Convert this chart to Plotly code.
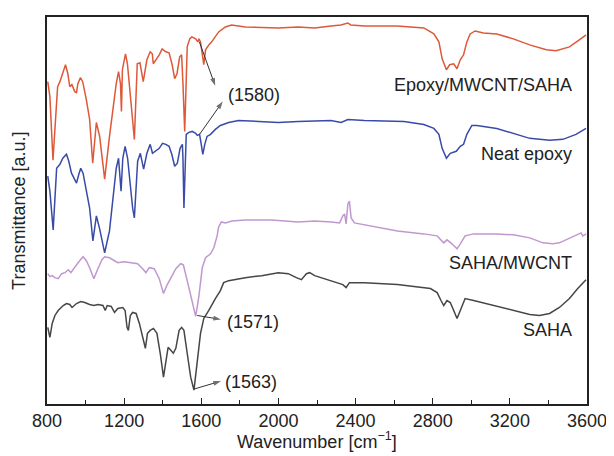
import plotly.graph_objects as go

# ---- data (wavenumber [cm-1], transmittance [a.u., offset]) ----
red_wn = [804, 815, 831, 850, 855, 867, 882, 896, 908, 918, 929, 944, 953, 960, 973, 985,
          1004, 1021, 1037, 1056, 1073, 1099, 1124, 1159, 1171, 1181, 1186, 1191, 1207, 1217,
          1236, 1248, 1253, 1268, 1282, 1299, 1318, 1335, 1346, 1351, 1365, 1382, 1397, 1416,
          1433, 1449, 1462, 1474, 1488, 1498, 1505, 1514, 1527, 1540, 1551, 1571, 1582, 1588,
          1596, 1603, 1613, 1622, 1639, 1654, 1673, 1690, 1725, 1757, 1828, 1999, 2102, 2188,
          2272, 2324, 2360, 2375, 2446, 2617, 2754, 2806, 2832, 2849, 2871, 2888, 2909, 2926,
          2943, 2960, 2977, 2994, 3020, 3063, 3132, 3218, 3303, 3389, 3440, 3509, 3560, 3595]
red_t = [324, 309, 245, 312, 319, 324, 334, 341, 332, 319, 321, 314, 313, 322, 328, 324,
         306, 286, 242, 283, 269, 226, 269, 322, 334, 322, 294, 336, 352, 342,
         302, 272, 266, 342, 343, 324, 346, 354, 352, 342, 346, 351, 357, 354,
         353, 341, 327, 332, 349, 351, 322, 274, 359, 367, 369, 367, 364, 367,
         364, 352, 341, 356, 361, 364, 369, 374, 379, 381, 379, 378, 379, 378,
         380, 381, 383, 381, 380, 380, 378, 372, 364, 347, 336, 341, 342, 337,
         346, 351, 364, 372, 375, 373, 372, 367, 361, 356, 355, 359, 366, 371]

blue_wn = [804, 815, 832, 850, 867, 882, 901, 913, 927, 941, 953, 965, 975, 987, 1004, 1021,
           1038, 1056, 1073, 1099, 1124, 1141, 1159, 1171, 1181, 1184, 1193, 1205, 1218, 1232,
           1244, 1253, 1270, 1284, 1301, 1318, 1335, 1347, 1365, 1382, 1399, 1416, 1433, 1447,
           1462, 1476, 1490, 1502, 1505, 1510, 1522, 1536, 1553, 1571, 1579, 1591, 1599, 1608,
           1618, 1630, 1648, 1673, 1699, 1742, 1793, 1913, 1999, 2102, 2272, 2325, 2360, 2446,
           2651, 2754, 2806, 2832, 2849, 2871, 2891, 2922, 2943, 2960, 2977, 3003, 3029, 3132,
           3218, 3303, 3406, 3475, 3543, 3595]
blue_t = [229, 214, 175, 237, 241, 247, 251, 244, 232, 226, 222, 231, 237, 232, 214, 197,
          164, 189, 176, 152, 174, 204, 237, 247, 227, 214, 247, 259, 247, 217,
          197, 187, 244, 252, 236, 252, 261, 252, 255, 257, 262, 261, 259, 251,
          239, 242, 257, 261, 247, 197, 271, 273, 274, 272, 270, 271, 262, 251,
          261, 269, 271, 276, 280, 283, 285, 284, 283, 284, 285, 283, 286, 285,
          284, 281, 277, 271, 257, 247, 252, 254, 259, 261, 271, 280, 280, 277,
          272, 267, 265, 266, 271, 277]

purple_wn = [804, 815, 827, 841, 858, 876, 893, 910, 924, 941, 961, 987, 1004, 1021, 1043,
             1064, 1085, 1099, 1124, 1150, 1167, 1201, 1236, 1270, 1296, 1313, 1330, 1356,
             1382, 1404, 1421, 1442, 1468, 1493, 1507, 1527, 1553, 1571, 1588, 1605, 1622,
             1648, 1665, 1682, 1690, 1704, 1725, 1759, 1828, 1965, 2102, 2188, 2274, 2317,
             2334, 2343, 2351, 2360, 2368, 2377, 2394, 2531, 2617, 2754, 2823, 2857, 2874,
             2900, 2926, 2943, 2968, 3012, 3132, 3218, 3303, 3372, 3423, 3457, 3492, 3543,
             3569, 3578, 3595]
purple_t = [131, 128, 129, 127, 126, 131, 132, 135, 132, 137, 142, 148, 144, 137, 126,
            136, 145, 148, 147, 144, 142, 143, 142, 141, 136, 132, 137, 136,
            126, 111, 119, 127, 136, 141, 140, 124, 104, 88, 109, 137, 147,
            151, 157, 169, 178, 183, 182, 184, 185, 185, 183, 184, 183, 182,
            189, 191, 181, 201, 204, 187, 182, 177, 174, 171, 169, 162, 165,
            161, 156, 161, 169, 171, 171, 170, 167, 162, 161, 162, 165, 169,
            172, 169, 171]

black_wn = [804, 815, 827, 841, 858, 884, 901, 918, 930, 953, 975, 996, 1021, 1043, 1064,
            1090, 1102, 1112, 1133, 1150, 1167, 1193, 1205, 1215, 1222, 1232, 1244, 1262,
            1279, 1296, 1310, 1321, 1335, 1352, 1370, 1387, 1404, 1416, 1428, 1442, 1455,
            1468, 1485, 1498, 1510, 1527, 1545, 1562, 1579, 1596, 1613, 1639, 1673, 1699,
            1716, 1742, 1828, 1913, 1999, 2051, 2093, 2119, 2145, 2162, 2188, 2240, 2308,
            2334, 2351, 2368, 2446, 2617, 2788, 2823, 2843, 2857, 2874, 2891, 2909, 2926,
            2943, 2968, 3012, 3132, 3218, 3303, 3354, 3406, 3457, 3509, 3552, 3578, 3595]
black_t = [77, 67, 81, 89, 94, 99, 101, 100, 97, 101, 103, 102, 100, 99, 100,
           99, 94, 99, 98, 92, 96, 97, 94, 77, 74, 89, 92, 91,
           81, 67, 56, 71, 74, 76, 71, 51, 27, 42, 57, 54, 51,
           56, 74, 77, 74, 51, 27, 14, 41, 71, 86, 94, 106, 114,
           122, 124, 127, 129, 132, 131, 127, 125, 131, 132, 129, 126, 122,
           120, 117, 122, 122, 120, 116, 112, 104, 99, 104, 102, 94, 86,
           94, 106, 104, 98, 94, 90, 89, 91, 97, 106, 116, 122, 125]

series_names = ["Epoxy/MWCNT/SAHA", "Neat epoxy", "SAHA/MWCNT", "SAHA"]
label_t = [321, 251, 142, 74]
x_ticks = [800, 1200, 1600, 2000, 2400, 2800, 3200, 3600]
x_minor = [1000, 1400, 1800, 2200, 2600, 3000, 3400]

# peak call-out arrows: (tail wn, tail t, head wn, head t)
arrows = [(1590, 364, 1672, 320), (1591, 271, 1711, 304),
          (1579, 89, 1702, 85), (1562, 15, 1702, 23)]
peak_labels = [("(1580)", 1730, 311), ("(1571)", 1723, 82), ("(1563)", 1714, 22)]

colors = ["rgb(222,88,58)", "rgb(58,74,168)", "rgb(192,152,208)", "rgb(70,70,70)"]
FONT = "Liberation Sans, Arial, sans-serif"

fig = go.Figure()
for wn, t, name, c in zip([red_wn, blue_wn, purple_wn, black_wn],
                          [red_t, blue_t, purple_t, black_t], series_names, colors):
    fig.add_trace(go.Scatter(x=wn, y=t, mode="lines", name=name,
                             line=dict(color=c, width=1.5), showlegend=False))

for (tx, tyy, hx, hy) in arrows:
    fig.add_trace(go.Scatter(x=[tx, hx], y=[tyy, hy], mode="lines+markers",
                             line=dict(color="#333", width=1),
                             marker=dict(symbol="arrow", size=[0, 8], angleref="previous",
                                         color="#333", line=dict(width=0)),
                             showlegend=False, hoverinfo="skip"))

ann = []
for name, ty in zip(series_names, label_t):
    ann.append(dict(x=3535, y=ty, xref="x", yref="y", text=name, showarrow=False,
                    xanchor="right", yanchor="middle", font=dict(size=18, color="#222")))
for txt, px, py in peak_labels:
    ann.append(dict(x=px, y=py, xref="x", yref="y", text=txt, showarrow=False,
                    xanchor="left", yanchor="middle", font=dict(size=18, color="#222")))
ann.append(dict(x=-0.053, y=0.5, xref="paper", yref="paper", text="Transmittance [a.u.]",
                textangle=-90, showarrow=False, xanchor="center", yanchor="middle",
                font=dict(size=18, color="#222")))
ann.append(dict(x=0.5, y=-0.095, xref="paper", yref="paper",
                text="Wavenumber [cm<sup>−1</sup>]", showarrow=False,
                xanchor="center", yanchor="middle", font=dict(size=18, color="#222")))

# the page body adds an 8 px offset; size and margins compensate so the plot area
# lands at the same window pixels as the reference
fig.update_layout(
    width=606, height=448,
    margin=dict(l=39, r=23, t=7, b=52),
    paper_bgcolor="white", plot_bgcolor="white",
    font=dict(family=FONT, size=18, color="#222"),
    annotations=ann,
    xaxis=dict(range=[800, 3600], tickvals=x_ticks, ticktext=[str(v) for v in x_ticks],
               ticks="inside", ticklen=6, tickwidth=1.2, tickcolor="#222",
               showline=True, linecolor="#222", linewidth=1.5, mirror=True,
               showgrid=False, zeroline=False, tickfont=dict(size=18),
               minor=dict(tickvals=x_minor, ticks="inside", ticklen=4, tickcolor="#222")),
    yaxis=dict(range=[0, 389], showticklabels=False, ticks="", showline=True,
               linecolor="#222", linewidth=1.5, mirror=True, showgrid=False, zeroline=False),
)

fig.write_html("out.html")
